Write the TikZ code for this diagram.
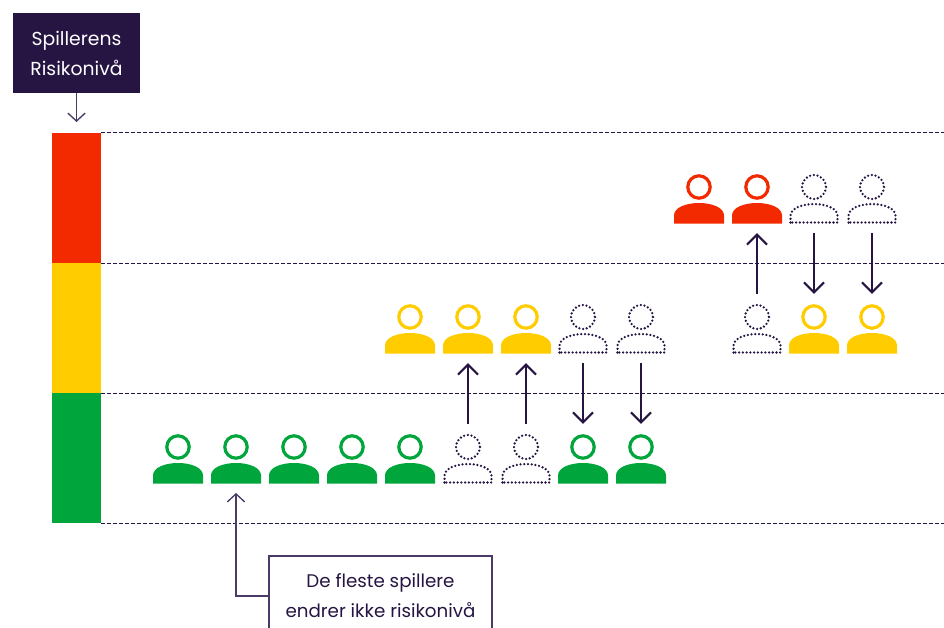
\documentclass[tikz,border=0pt]{standalone}
\usepackage{fontspec}
\setmainfont{Poppins}
\usetikzlibrary{arrows.meta}
\definecolor{ink}{HTML}{261543}
\definecolor{linkink}{HTML}{4A3A68}
\definecolor{rred}{HTML}{F32A00}
\definecolor{ryellow}{HTML}{FFCC00}
\definecolor{rgreen}{HTML}{00A53B}
\tikzset{
  x=0.75pt,y=-0.75pt,
  band/.style={draw=none,inner sep=0pt,minimum width=36.75pt,minimum height=97.5pt},
  level/.style={draw=ink,line width=0.85pt,dash pattern=on 2.6pt off 1.9pt},
  mover/.style={draw=ink,line width=1.6pt,-{Straight Barb[length=7.5pt,width=15pt,line width=1.6pt]},shorten <=7pt,shorten >=7pt},
  thinlink/.style={draw=linkink,line width=1pt,-{Straight Barb[length=6pt,width=13pt,line width=1pt]}},
  personbox/.style={inner sep=0pt,minimum width=37.5pt,minimum height=37.5pt},
  titlebox/.style={fill=ink,text=white,inner sep=0pt,minimum width=95.25pt,minimum height=60pt,align=center,font=\fontsize{14.1pt}{22.5pt}\selectfont},
  notebox/.style={draw=linkink,line width=1pt,text=ink,inner sep=0pt,minimum width=167.25pt,minimum height=60pt,align=center,font=\fontsize{13.7pt}{22.5pt}\selectfont},
  ghost/.style={draw=ink,line width=1.9pt,line cap=round,dash pattern=on 0pt off 2.8pt}
}
% solid person: name, x, base y, colour
\newcommand{\solidperson}[4]{
  \draw[#4,line width=2.4pt] (#2,#3-36.5) circle[radius=11.2];
  \fill[#4] (#2-25,#3) -- (#2-25,#3-8) .. controls (#2-25,#3-16) and (#2-13,#3-20.5) .. (#2,#3-20.5)
    .. controls (#2+13,#3-20.5) and (#2+25,#3-16) .. (#2+25,#3-8) -- (#2+25,#3) -- cycle;
  \node[personbox] (#1) at (#2,#3-25) {};
}
% dotted person: name, x, base y
\newcommand{\ghostperson}[3]{
  \draw[ghost] (#2,#3-36.5) circle[radius=12];
  \draw[ghost] (#2-23.5,#3-1) -- (#2-23.5,#3-8) .. controls (#2-23.5,#3-15) and (#2-12,#3-19.5) .. (#2,#3-19.5)
    .. controls (#2+12,#3-19.5) and (#2+23.5,#3-15) .. (#2+23.5,#3-8) -- (#2+23.5,#3-1) -- cycle;
  \node[personbox] (#1) at (#2,#3-25) {};
}
\begin{document}
\begin{tikzpicture}
\useasboundingbox (0,0) rectangle (944,627);
% level bands
\node[band,fill=rred] (bandr) at (76.5,198) {};
\node[band,fill=ryellow] (bandy) at (76.5,328) {};
\node[band,fill=rgreen] (bandg) at (76.5,458) {};
% level lines
\coordinate (edge) at (944,0);
\draw[level] (bandr.north east) -- (bandr.north east -| edge);
\draw[level] (bandr.south east) -- (bandr.south east -| edge);
\draw[level] (bandy.south east) -- (bandy.south east -| edge);
\draw[level] (bandg.south east) -- (bandg.south east -| edge);
% title
\node[titlebox] (title) at (76.5,53) {Spillerens\\Risikonivå};
\coordinate (titletip) at (76.5,122);
\draw[thinlink] (title.south) -- (titletip);
% green row
\solidperson{g1}{178}{483.5}{rgreen}
\solidperson{g2}{236}{483.5}{rgreen}
\solidperson{g3}{294}{483.5}{rgreen}
\solidperson{g4}{352}{483.5}{rgreen}
\solidperson{g5}{410}{483.5}{rgreen}
\ghostperson{g6}{468}{483.5}
\ghostperson{g7}{526}{483.5}
\solidperson{g8}{583}{483.5}{rgreen}
\solidperson{g9}{641}{483.5}{rgreen}
% yellow row
\solidperson{y1}{410}{353.5}{ryellow}
\solidperson{y2}{468}{353.5}{ryellow}
\solidperson{y3}{526}{353.5}{ryellow}
\ghostperson{y4}{583}{353.5}
\ghostperson{y5}{641}{353.5}
\ghostperson{y6}{757}{353.5}
\solidperson{y7}{814}{353.5}{ryellow}
\solidperson{y8}{872}{353.5}{ryellow}
% red row
\solidperson{r1}{699}{223.5}{rred}
\solidperson{r2}{757}{223.5}{rred}
\ghostperson{r3}{814}{223.5}
\ghostperson{r4}{872}{223.5}
% moves
\draw[mover] (g6) -- (y2);
\draw[mover] (g7) -- (y3);
\draw[mover] (y4) -- (g8);
\draw[mover] (y5) -- (g9);
\draw[mover] (y6) -- (r2);
\draw[mover] (r3) -- (y7);
\draw[mover] (r4) -- (y8);
% note
\node[notebox] (note) at (380.5,596) {De fleste spillere\\endrer ikke risikonivå};
\coordinate (notetip) at (236,493);
\draw[thinlink] (note.west) -| (notetip);
\end{tikzpicture}
\end{document}
